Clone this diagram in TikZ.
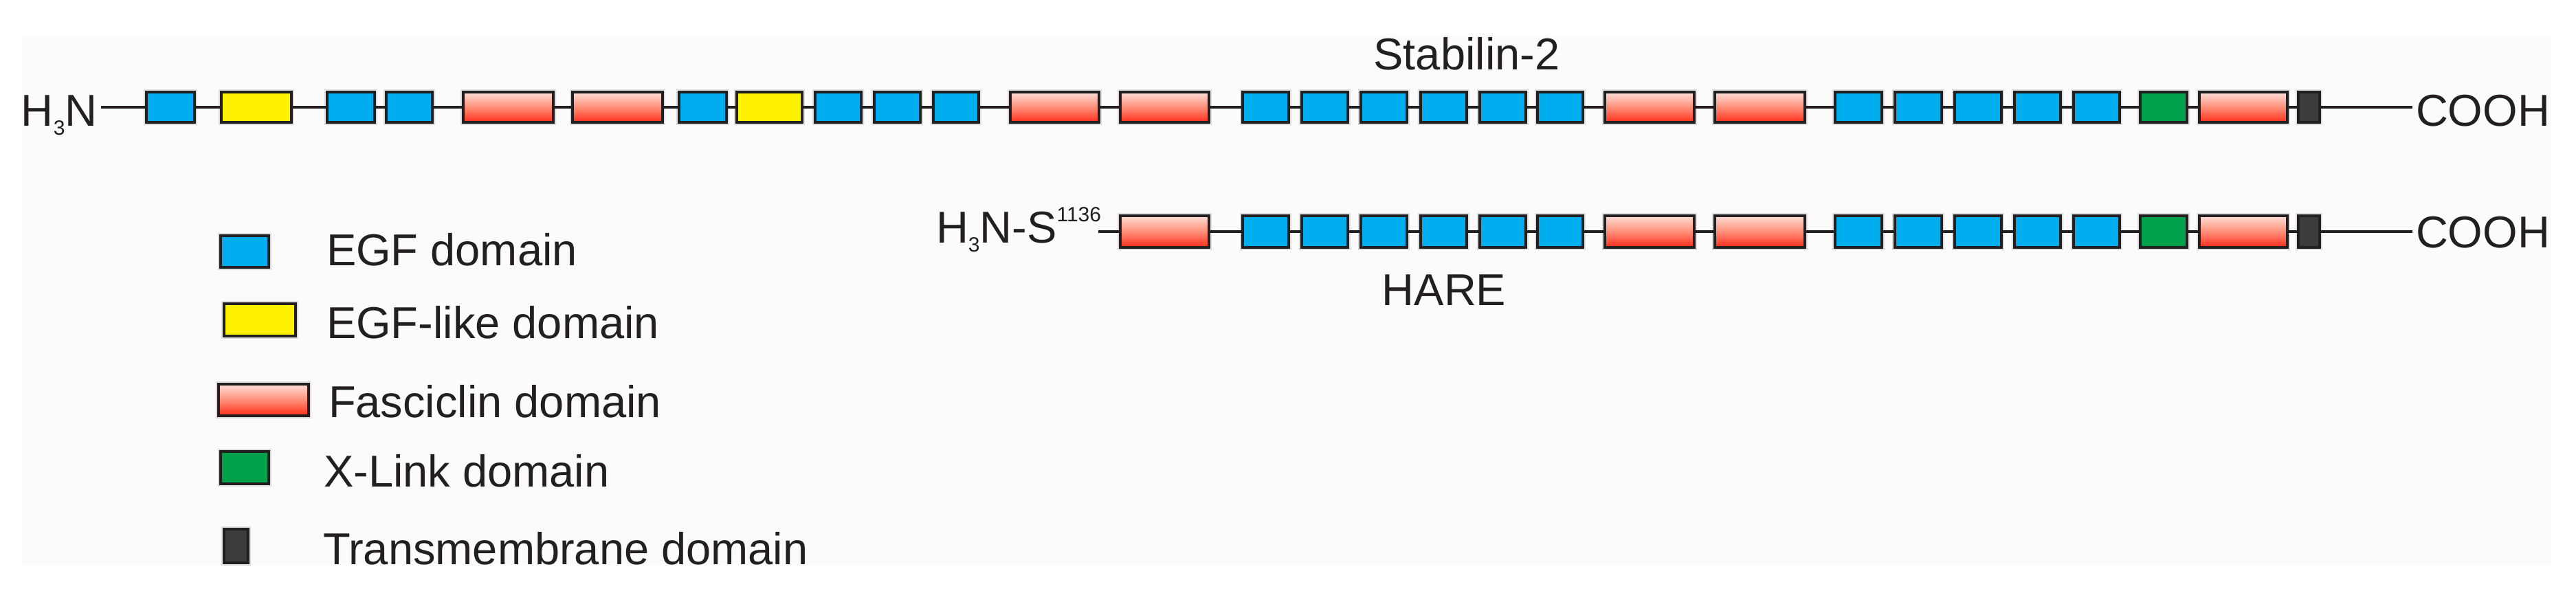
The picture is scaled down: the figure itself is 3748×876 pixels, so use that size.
\documentclass[tikz,border=0pt]{standalone}
\usepackage{fontspec}
\setmainfont{Liberation Sans}
\definecolor{bord}{RGB}{35,31,32}
\definecolor{egfc}{RGB}{0,174,239}
\definecolor{yelc}{RGB}{255,242,0}
\definecolor{grnc}{RGB}{0,161,75}
\definecolor{tmc}{RGB}{60,60,60}
\definecolor{fastop}{RGB}{255,224,216}
\definecolor{fasmid}{RGB}{255,142,120}
\definecolor{fasbot}{RGB}{255,45,25}
\definecolor{bgc}{RGB}{251,251,251}
\newcommand\domainbox[6]{\node[#2, minimum width={(#4-#3-4)*0.25pt}, minimum height={(#6-#5-4)*0.25pt}] (#1) at ({(#3+#4)/2},{(#5+#6)/2}) {};}
\newcommand\lblfont{\fontsize{16.25pt}{19.5pt}\selectfont}
\newcommand\smallnum[1]{{\fontsize{7.5pt}{9pt}\selectfont #1}}
\def\rowone{1/egf/211/285, 2/egfl/320/426, 3/egf/474/547, 4/egf/560/631, 5/fas/672/807, 6/fas/831/966, 7/egf/986/1059, 8/egfl/1070/1169, 9/egf/1184/1255, 10/egf/1270/1341, 11/egf/1356/1426, 12/fas/1468/1601, 13/fas/1628/1761, 14/egf/1806/1877, 15/egf/1892/1963, 16/egf/1978/2049, 17/egf/2065/2136, 18/egf/2151/2222, 19/egf/2235/2305, 20/fas/2333/2467, 21/fas/2493/2628, 22/egf/2668/2740, 23/egf/2755/2827, 24/egf/2842/2914, 25/egf/2929/3000, 26/egf/3015/3086, 27/xl/3112/3184, 28/fas/3198/3330, 29/tm/3342/3377}
\def\rowtwo{13/fas/1628/1761, 14/egf/1806/1877, 15/egf/1892/1963, 16/egf/1978/2049, 17/egf/2065/2136, 18/egf/2151/2222, 19/egf/2235/2305, 20/fas/2333/2467, 21/fas/2493/2628, 22/egf/2668/2740, 23/egf/2755/2827, 24/egf/2842/2914, 25/egf/2929/3000, 26/egf/3015/3086, 27/xl/3112/3184, 28/fas/3198/3330, 29/tm/3342/3377}
\begin{document}
\begin{tikzpicture}[x=0.25pt, y=-0.25pt,
  box/.style={draw=bord, line width=1pt, inner sep=0pt, outer sep=0pt, rectangle, preaction={draw=black!13, line width=2pt}},
  egf/.style={box, fill=egfc},
  egfl/.style={box, fill=yelc},
  fas/.style={box, top color=fastop, bottom color=fasbot, middle color=fasmid},
  xl/.style={box, fill=grnc},
  tm/.style={box, fill=tmc},
  bb/.style={draw=bord, line width=1pt},
  txt/.style={inner sep=0pt, outer sep=0pt, text=bord, font=\lblfont, anchor=base west}]
\useasboundingbox (0,0) rectangle (3748,876);
\fill[white] (0,0) rectangle (3748,876);
\fill[bgc] (32,52) rectangle (3713,822);

% Stabilin-2 row
\node[txt] (h3n1) at (31,184) {H\raisebox{-0.2em}{\smallnum{3}}N};
\node[txt, anchor=base] (stab) at (2134,102) {Stabilin-2};
\foreach \i/\s/\a/\b in \rowone {\domainbox{a\i}{\s}{\a}{\b}{132}{180}}
\coordinate (n1) at (147,156);
\coordinate (c1) at (3510,156);
\draw[bb] (n1) -- (a1.west);
\foreach \i in {1,...,28}{\pgfmathtruncatemacro\j{\i+1}\draw[bb] (a\i.east) -- (a\j.west);}
\draw[bb] (a29.east) -- (c1);
\node[txt] (cooh1) at (3515,184) {COOH};

% HARE row
\node[txt] (h3n2) at (1362,354) {H\raisebox{-0.2em}{\smallnum{3}}N-S\raisebox{0.49em}{\smallnum{1136}}};
\node[txt, anchor=base] (hare) at (2101,445) {HARE};
\foreach \i/\s/\a/\b in \rowtwo {\domainbox{b\i}{\s}{\a}{\b}{312}{362}}
\coordinate (n2) at (1598,337);
\coordinate (c2) at (3510,337);
\draw[bb] (n2) -- (b13.west);
\foreach \i in {13,...,28}{\pgfmathtruncatemacro\j{\i+1}\draw[bb] (b\i.east) -- (b\j.west);}
\draw[bb] (b29.east) -- (c2);
\node[txt] (cooh2) at (3515,361) {COOH};

% Legend
\domainbox{k1}{egf}{319}{393}{341}{391}
\domainbox{k2}{egfl}{324}{432}{440}{491}
\domainbox{k3}{fas}{316}{451}{557}{607}
\domainbox{k4}{xl}{319}{393}{655}{706}
\domainbox{k5}{tm}{324}{363}{768}{821}
\node[txt] (t1) at (475,387) {EGF domain};
\node[txt] (t2) at (475,493) {EGF-like domain};
\node[txt] (t3) at (478,608) {Fasciclin domain};
\node[txt] (t4) at (471,708) {X-Link domain};
\node[txt] (t5) at (470,821) {Transmembrane domain};
\end{tikzpicture}
\end{document}
